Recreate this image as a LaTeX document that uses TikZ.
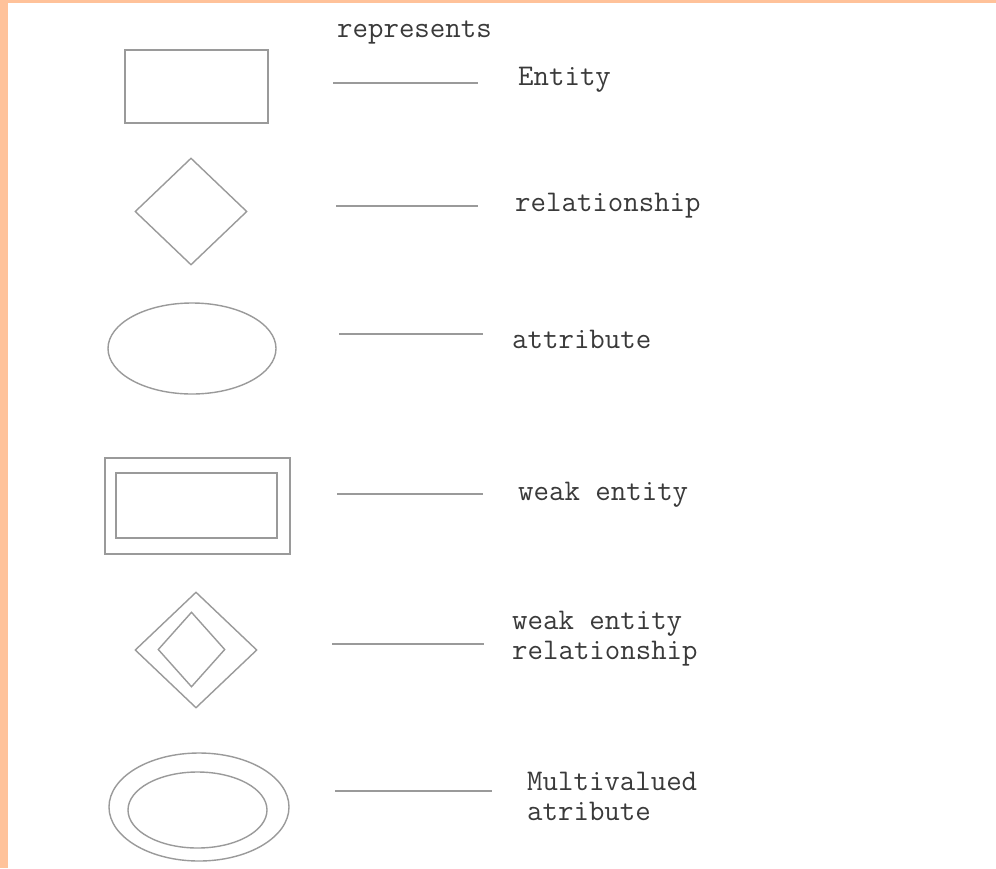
\documentclass[tikz,border=0pt]{standalone}
\usetikzlibrary{shapes.geometric}
\definecolor{peach}{HTML}{FFC29A}
\definecolor{shapegray}{HTML}{9A9A9A}
\definecolor{txtgray}{HTML}{3A3A3A}
\tikzset{
  sym/.style={draw=shapegray, line width=1.4pt, inner sep=0pt, fill=none},
  box/.style={sym, rectangle},
  dia/.style={sym, diamond},
  ell/.style={sym, ellipse},
  lbl/.style={anchor=west, inner sep=0pt, text=txtgray, font=\fontsize{30}{31}\selectfont\ttfamily, align=left},
  rule/.style={draw=shapegray, line width=1.4pt},
}
\begin{document}
\begin{tikzpicture}[x=1pt,y=-1pt]
\useasboundingbox (0,0) rectangle (996,868);
\fill[white] (0,0) rectangle (996,868);
\fill[peach] (0,0) rectangle (996,3);
\fill[peach] (0,0) rectangle (8,868);

\node[lbl] (rep) at (337,33) {represents};

% Entity
\node[box, minimum width=143pt, minimum height=73pt] (ent) at (196.5,86.5) {};
\coordinate (l1a) at (333,83); \coordinate (l1b) at (478,83);
\draw[rule] (l1a) -- (l1b);
\node[lbl] (t1) at (518,80) {Entity};

% Relationship
\node[dia, minimum width=112pt, minimum height=107pt] (rel) at (191,211.5) {};
\coordinate (l2a) at (336,206); \coordinate (l2b) at (478,206);
\draw[rule] (l2a) -- (l2b);
\node[lbl] (t2) at (515,206) {relationship};

% Attribute
\node[ell, minimum width=168pt, minimum height=91pt] (att) at (192,348.5) {};
\coordinate (l3a) at (339,334); \coordinate (l3b) at (483,334);
\draw[rule] (l3a) -- (l3b);
\node[lbl] (t3) at (512,339) {attribute};

% Weak entity
\node[box, minimum width=185pt, minimum height=96pt] (weo) at (197.5,506) {};
\node[box, minimum width=161pt, minimum height=65pt] (wei) at (196.5,505.5) {};
\coordinate (l4a) at (337,494); \coordinate (l4b) at (483,494);
\draw[rule] (l4a) -- (l4b);
\node[lbl] (t4) at (518,495) {weak entity};

% Weak entity relationship
\node[dia, minimum width=122pt, minimum height=116pt] (wro) at (196,650) {};
\node[dia, minimum width=67pt, minimum height=75pt] (wri) at (191.5,649.5) {};
\coordinate (l5a) at (332,644); \coordinate (l5b) at (484,644);
\draw[rule] (l5a) -- (l5b);
\node[lbl] (t5) at (512,639) {weak entity\\[-1pt]relationship};

% Multivalued attribute
\node[ell, minimum width=180pt, minimum height=108pt] (mvo) at (199,807) {};
\node[ell, minimum width=139pt, minimum height=76pt] (mvi) at (197.5,810) {};
\coordinate (l6a) at (335,791); \coordinate (l6b) at (492,791);
\draw[rule] (l6a) -- (l6b);
\node[lbl] (t6) at (527,796) {Multivalued\\[-1pt]atribute};
\end{tikzpicture}
\end{document}
